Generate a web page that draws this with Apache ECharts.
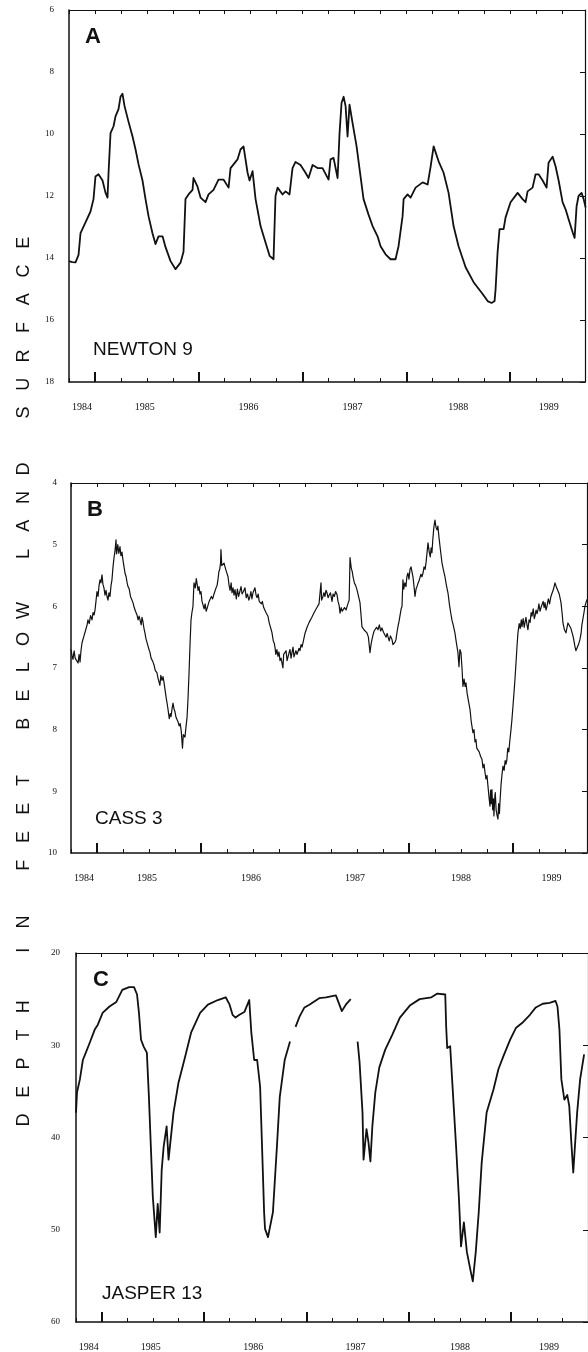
<!DOCTYPE html>
<html><head><meta charset="utf-8">
<script src="https://cdn.jsdelivr.net/npm/echarts@6/dist/echarts.min.js"></script>
<style>html,body{margin:0;padding:0;background:#fff}#c{width:588px;height:1352px}</style>
</head><body><div id="c"></div>
<script>
// ---- data: [decimal year, depth in feet below land surface] ----
const newtonPts = [
[1984.750,14.10],[1984.781,14.13],[1984.813,14.14],[1984.842,13.90],[1984.861,13.20],[1984.909,12.85],[1984.957,12.50],[1984.986,12.10],
[1985.005,11.37],[1985.034,11.30],[1985.073,11.50],[1985.102,11.90],[1985.121,12.05],[1985.131,11.25],[1985.150,9.97],[1985.179,9.75],
[1985.198,9.43],[1985.227,9.20],[1985.246,8.80],[1985.265,8.70],[1985.285,9.10],[1985.323,9.60],[1985.362,10.08],[1985.391,10.50],
[1985.420,10.98],[1985.458,11.50],[1985.487,12.10],[1985.516,12.65],[1985.554,13.20],[1985.583,13.55],[1985.612,13.30],[1985.651,13.30],
[1985.680,13.65],[1985.728,14.10],[1985.776,14.36],[1985.824,14.15],[1985.853,13.80],[1985.872,12.10],[1985.901,11.95],[1985.940,11.80],
[1985.949,11.42],[1985.988,11.70],[1986.017,12.05],[1986.065,12.20],[1986.094,11.95],[1986.142,11.80],[1986.190,11.47],[1986.238,11.47],
[1986.287,11.73],[1986.306,11.10],[1986.335,10.98],[1986.373,10.82],[1986.402,10.50],[1986.431,10.40],[1986.450,10.40],[1986.470,11.25],
[1986.489,11.50],[1986.518,11.20],[1986.547,12.10],[1986.595,12.97],[1986.643,13.50],[1986.682,13.93],[1986.720,14.04],[1986.739,12.00],
[1986.759,11.73],[1986.807,11.95],[1986.836,11.85],[1986.874,11.95],[1986.903,11.10],[1986.932,10.90],[1986.980,11.00],[1987.028,11.25],
[1987.057,11.42],[1987.096,11.00],[1987.144,11.10],[1987.192,11.10],[1987.250,11.47],[1987.269,10.82],[1987.298,10.77],[1987.337,11.42],
[1987.356,9.97],[1987.375,9.00],[1987.395,8.80],[1987.414,9.10],[1987.433,10.08],[1987.452,9.05],[1987.481,9.64],[1987.520,10.40],
[1987.558,11.37],[1987.587,12.10],[1987.635,12.60],[1987.674,12.97],[1987.722,13.30],[1987.751,13.62],[1987.799,13.88],[1987.847,14.04],
[1987.895,14.04],[1987.924,13.62],[1987.963,12.65],[1987.973,12.10],[1988.011,11.95],[1988.040,12.05],[1988.088,11.73],[1988.156,11.56],
[1988.204,11.63],[1988.233,11.05],[1988.262,10.40],[1988.281,10.45],[1988.310,10.88],[1988.358,11.25],[1988.406,11.90],[1988.454,12.97],
[1988.502,13.62],[1988.570,14.30],[1988.647,14.78],[1988.734,15.16],[1988.782,15.39],[1988.820,15.45],[1988.849,15.39],[1988.859,15.00],
[1988.878,13.82],[1988.897,13.07],[1988.936,13.07],[1988.955,12.69],[1989.003,12.20],[1989.071,11.90],[1989.119,12.10],[1989.148,12.20],
[1989.167,11.85],[1989.215,11.73],[1989.244,11.30],[1989.273,11.30],[1989.312,11.50],[1989.350,11.73],[1989.369,10.93],[1989.408,10.73],
[1989.437,11.05],[1989.466,11.50],[1989.504,12.20],[1989.533,12.43],[1989.562,12.75],[1989.601,13.17],[1989.620,13.35],[1989.639,12.33],
[1989.658,12.00],[1989.687,11.90],[1989.707,12.10],[1989.726,12.37]
];
const cassPts = [
[1984.750,6.70],[1984.760,6.80],[1984.769,6.86],[1984.780,6.72],[1984.790,6.84],[1984.808,6.81],[1984.818,6.92],[1984.828,6.78],[1984.837,6.90],[1984.846,6.72],
[1984.856,6.59],[1984.866,6.62],[1984.875,6.48],[1984.885,6.49],[1984.895,6.36],[1984.905,6.30],[1984.913,6.22],[1984.925,6.28],[1984.938,6.15],[1984.952,6.22],
[1984.962,6.10],[1984.972,6.14],[1984.981,6.06],[1984.990,5.92],[1985.000,5.76],[1985.010,5.84],[1985.020,5.66],[1985.029,5.57],[1985.038,5.62],[1985.048,5.49],
[1985.057,5.64],[1985.067,5.70],[1985.077,5.82],[1985.087,5.74],[1985.096,5.84],[1985.106,5.90],[1985.115,5.78],[1985.125,5.84],[1985.135,5.66],[1985.144,5.57],
[1985.154,5.36],[1985.163,5.22],[1985.173,5.10],[1985.183,4.92],[1985.188,5.15],[1985.192,5.11],[1985.200,5.00],[1985.210,5.14],[1985.221,5.03],[1985.230,5.18],
[1985.240,5.12],[1985.250,5.25],[1985.260,5.36],[1985.269,5.46],[1985.280,5.52],[1985.290,5.62],[1985.298,5.68],[1985.310,5.72],[1985.322,5.84],[1985.334,5.86],
[1985.346,5.94],[1985.358,6.02],[1985.370,6.08],[1985.385,6.14],[1985.395,6.22],[1985.405,6.16],[1985.413,6.19],[1985.425,6.30],[1985.433,6.18],[1985.442,6.25],
[1985.452,6.36],[1985.462,6.44],[1985.470,6.52],[1985.481,6.54],[1985.490,6.64],[1985.500,6.70],[1985.510,6.75],[1985.520,6.84],[1985.530,6.86],[1985.538,6.90],
[1985.550,6.96],[1985.560,7.04],[1985.577,7.08],[1985.586,7.16],[1985.596,7.19],[1985.605,7.28],[1985.614,7.12],[1985.625,7.20],[1985.635,7.14],[1985.645,7.24],
[1985.654,7.35],[1985.665,7.48],[1985.675,7.58],[1985.683,7.67],[1985.695,7.82],[1985.705,7.74],[1985.712,7.79],[1985.722,7.66],[1985.731,7.57],[1985.740,7.66],
[1985.750,7.71],[1985.760,7.80],[1985.770,7.78],[1985.779,7.87],[1985.790,7.94],[1985.800,7.90],[1985.810,8.02],[1985.817,8.00],[1985.822,8.30],[1985.830,8.08],
[1985.837,8.05],[1985.846,8.12],[1985.856,7.95],[1985.866,7.80],[1985.875,7.51],[1985.885,7.08],[1985.895,6.60],[1985.904,6.22],[1985.913,6.10],[1985.923,6.00],
[1985.928,5.80],[1985.933,5.62],[1985.945,5.70],[1985.955,5.55],[1985.962,5.57],[1985.972,5.74],[1985.981,5.68],[1985.990,5.80],[1986.000,5.76],[1986.010,5.92],
[1986.019,5.94],[1986.030,6.04],[1986.040,5.96],[1986.050,6.08],[1986.058,6.06],[1986.068,5.98],[1986.078,5.92],[1986.087,5.89],[1986.100,5.84],[1986.112,5.88],
[1986.125,5.80],[1986.135,5.78],[1986.145,5.70],[1986.155,5.66],[1986.163,5.57],[1986.172,5.44],[1986.180,5.40],[1986.188,5.30],[1986.192,5.08],[1986.200,5.34],
[1986.212,5.36],[1986.222,5.30],[1986.231,5.36],[1986.245,5.44],[1986.260,5.52],[1986.270,5.66],[1986.280,5.74],[1986.290,5.62],[1986.298,5.78],[1986.308,5.70],
[1986.318,5.82],[1986.327,5.73],[1986.340,5.88],[1986.350,5.72],[1986.362,5.84],[1986.375,5.81],[1986.385,5.68],[1986.395,5.80],[1986.408,5.76],[1986.423,5.70],
[1986.435,5.86],[1986.447,5.80],[1986.460,5.90],[1986.471,5.84],[1986.480,5.76],[1986.490,5.88],[1986.500,5.78],[1986.510,5.80],[1986.519,5.70],[1986.530,5.82],
[1986.540,5.86],[1986.550,5.80],[1986.560,5.92],[1986.567,5.89],[1986.580,5.96],[1986.590,5.92],[1986.603,6.02],[1986.615,6.00],[1986.625,6.10],[1986.635,6.08],
[1986.644,6.16],[1986.655,6.26],[1986.665,6.32],[1986.675,6.38],[1986.683,6.43],[1986.695,6.56],[1986.705,6.60],[1986.712,6.67],[1986.720,6.78],[1986.730,6.70],
[1986.740,6.81],[1986.750,6.74],[1986.760,6.88],[1986.770,6.84],[1986.779,6.86],[1986.788,7.00],[1986.795,6.78],[1986.808,6.81],[1986.818,6.72],[1986.828,6.88],
[1986.837,6.90],[1986.846,6.76],[1986.856,6.70],[1986.866,6.84],[1986.875,6.75],[1986.885,6.66],[1986.894,6.82],[1986.904,6.83],[1986.913,6.72],[1986.923,6.78],
[1986.933,6.76],[1986.943,6.68],[1986.952,6.72],[1986.962,6.62],[1986.972,6.66],[1986.981,6.59],[1986.990,6.52],[1987.000,6.44],[1987.010,6.46],[1987.020,6.34],
[1987.029,6.33],[1987.040,6.26],[1987.052,6.28],[1987.065,6.18],[1987.077,6.16],[1987.088,6.10],[1987.100,6.12],[1987.115,6.02],[1987.125,6.00],[1987.135,5.96],
[1987.144,5.94],[1987.154,5.62],[1987.160,5.90],[1987.173,5.84],[1987.182,5.78],[1987.192,5.84],[1987.202,5.74],[1987.212,5.78],[1987.222,5.86],[1987.232,5.82],
[1987.245,5.78],[1987.260,5.92],[1987.270,5.80],[1987.282,5.84],[1987.295,5.76],[1987.308,5.81],[1987.318,5.92],[1987.328,5.98],[1987.337,6.11],[1987.348,6.02],
[1987.358,6.08],[1987.365,6.06],[1987.380,6.02],[1987.395,6.06],[1987.405,6.00],[1987.413,6.00],[1987.425,5.90],[1987.433,5.21],[1987.445,5.38],[1987.455,5.44],
[1987.462,5.52],[1987.475,5.62],[1987.487,5.66],[1987.500,5.73],[1987.515,5.84],[1987.529,5.94],[1987.540,6.16],[1987.548,6.33],[1987.558,6.36],[1987.567,6.38],
[1987.580,6.41],[1987.596,6.43],[1987.610,6.50],[1987.625,6.75],[1987.635,6.62],[1987.644,6.54],[1987.655,6.46],[1987.665,6.40],[1987.673,6.41],[1987.688,6.34],
[1987.702,6.38],[1987.715,6.30],[1987.728,6.40],[1987.740,6.35],[1987.755,6.42],[1987.769,6.43],[1987.780,6.50],[1987.790,6.44],[1987.798,6.49],[1987.810,6.56],
[1987.822,6.48],[1987.837,6.54],[1987.846,6.62],[1987.856,6.65],[1987.866,6.58],[1987.875,6.54],[1987.885,6.42],[1987.894,6.33],[1987.905,6.24],[1987.915,6.14],
[1987.925,6.04],[1987.933,6.00],[1987.942,5.57],[1987.950,5.72],[1987.960,5.62],[1987.971,5.68],[1987.980,5.52],[1987.990,5.46],[1988.000,5.56],[1988.010,5.40],
[1988.020,5.36],[1988.029,5.36],[1988.040,5.54],[1988.050,5.70],[1988.058,5.84],[1988.068,5.72],[1988.077,5.68],[1988.088,5.62],[1988.098,5.58],[1988.106,5.57],
[1988.115,5.48],[1988.125,5.52],[1988.135,5.46],[1988.145,5.36],[1988.155,5.40],[1988.165,5.28],[1988.173,5.25],[1988.183,4.97],[1988.195,5.12],[1988.205,5.20],
[1988.213,5.05],[1988.221,5.13],[1988.230,4.90],[1988.240,4.71],[1988.250,4.60],[1988.260,4.72],[1988.269,4.76],[1988.278,4.70],[1988.288,4.87],[1988.300,5.05],
[1988.317,5.29],[1988.330,5.40],[1988.346,5.52],[1988.360,5.66],[1988.375,5.78],[1988.390,5.98],[1988.403,6.12],[1988.413,6.22],[1988.425,6.30],[1988.442,6.43],
[1988.455,6.58],[1988.471,6.75],[1988.481,6.98],[1988.490,6.70],[1988.500,6.75],[1988.510,7.00],[1988.519,7.30],[1988.530,7.18],[1988.540,7.30],[1988.548,7.24],
[1988.560,7.42],[1988.575,7.56],[1988.587,7.67],[1988.598,7.86],[1988.607,7.96],[1988.615,8.05],[1988.625,8.00],[1988.635,8.20],[1988.644,8.16],[1988.652,8.30],
[1988.663,8.27],[1988.675,8.36],[1988.690,8.44],[1988.702,8.48],[1988.712,8.62],[1988.722,8.56],[1988.731,8.69],[1988.740,8.80],[1988.750,8.74],[1988.760,8.92],
[1988.770,9.10],[1988.779,9.24],[1988.785,8.98],[1988.792,9.20],[1988.798,8.97],[1988.805,9.30],[1988.812,9.12],[1988.817,9.40],[1988.825,9.10],[1988.830,9.02],
[1988.838,9.30],[1988.846,9.38],[1988.856,9.45],[1988.862,9.20],[1988.870,9.36],[1988.875,9.18],[1988.885,8.90],[1988.895,8.72],[1988.904,8.59],[1988.915,8.66],
[1988.925,8.50],[1988.933,8.56],[1988.942,8.48],[1988.950,8.30],[1988.960,8.36],[1988.971,8.16],[1988.980,8.02],[1988.990,7.84],[1989.000,7.62],[1989.010,7.40],
[1989.019,7.19],[1989.030,6.90],[1989.040,6.62],[1989.048,6.43],[1989.060,6.28],[1989.070,6.36],[1989.080,6.22],[1989.087,6.33],[1989.098,6.20],[1989.108,6.34],
[1989.115,6.27],[1989.125,6.18],[1989.135,6.30],[1989.144,6.38],[1989.155,6.22],[1989.165,6.26],[1989.175,6.10],[1989.183,6.16],[1989.195,6.04],[1989.205,6.20],
[1989.212,6.16],[1989.222,6.06],[1989.232,6.12],[1989.240,6.06],[1989.250,5.96],[1989.260,6.08],[1989.270,6.02],[1989.279,6.02],[1989.290,5.92],[1989.300,6.02],
[1989.308,5.94],[1989.318,6.06],[1989.327,6.00],[1989.340,5.88],[1989.352,5.96],[1989.365,5.84],[1989.375,5.84],[1989.390,5.72],[1989.404,5.62],[1989.420,5.70],
[1989.433,5.68],[1989.445,5.80],[1989.462,5.94],[1989.472,6.10],[1989.481,6.27],[1989.495,6.38],[1989.510,6.43],[1989.520,6.34],[1989.529,6.27],[1989.545,6.30],
[1989.558,6.36],[1989.567,6.33],[1989.580,6.50],[1989.596,6.65],[1989.605,6.72],[1989.615,6.75],[1989.630,6.62],[1989.644,6.54],[1989.655,6.44],[1989.663,6.30],
[1989.673,6.27],[1989.683,6.10],[1989.692,6.00],[1989.702,5.94],[1989.712,5.89]
];
// null = gap in the record
const jasperPts = [
[1984.750,37.3],[1984.760,35.1],[1984.788,33.7],[1984.817,31.6],[1984.846,30.8],[1984.885,29.7],[1984.933,28.3],[1984.962,27.8],[1985.010,26.5],
[1985.077,25.8],[1985.144,25.3],[1985.202,24.0],[1985.269,23.7],[1985.317,23.7],[1985.346,24.5],[1985.365,26.5],[1985.385,29.4],[1985.413,30.2],
[1985.442,30.8],[1985.462,35.6],[1985.481,41.0],[1985.500,46.4],[1985.529,50.8],[1985.548,47.2],[1985.567,50.3],[1985.587,43.5],[1985.606,41.0],
[1985.635,38.8],[1985.654,42.4],[1985.673,42.6],[1985.702,37.3],[1985.750,34.1],[1985.817,31.2],[1985.875,28.6],[1985.962,26.5],[1986.038,25.6],
[1986.135,25.1],[1986.212,24.8],[1986.250,25.6],[1986.279,26.7],[1986.308,27.0],[1986.346,26.7],[1986.394,26.4],[1986.442,25.1],[1986.462,28.6],
[1986.490,31.6],[1986.519,31.6],[1986.548,34.5],[1986.567,41.0],[1986.587,48.1],[1986.596,49.9],[1986.625,50.8],[1986.644,50.7],[1986.673,48.1],
[1986.712,41.0],[1986.740,35.6],[1986.788,31.6],[1986.840,29.6],[1986.866,null],
[1986.894,28.0],[1986.933,26.9],[1986.981,25.9],[1987.029,25.6],[1987.125,24.9],[1987.192,24.8],[1987.288,24.6],[1987.346,26.3],[1987.385,25.6],
[1987.433,25.0],[1987.466,null],
[1987.500,29.6],[1987.519,31.8],[1987.548,37.3],[1987.558,42.4],[1987.587,39.1],[1987.606,40.5],[1987.625,42.6],[1987.644,38.8],[1987.673,35.1],
[1987.712,32.4],[1987.769,30.5],[1987.837,28.9],[1987.913,27.0],[1988.010,25.7],[1988.106,25.0],[1988.221,24.8],[1988.279,24.4],[1988.356,24.5],
[1988.365,28.0],[1988.375,30.3],[1988.404,30.1],[1988.423,33.7],[1988.462,41.0],[1988.490,46.7],[1988.510,51.8],[1988.538,49.2],[1988.567,52.4],
[1988.606,54.6],[1988.625,55.6],[1988.654,52.4],[1988.683,48.1],[1988.712,42.7],[1988.760,37.3],[1988.827,34.8],[1988.875,32.6],[1988.923,31.2],
[1988.990,29.4],[1989.048,28.1],[1989.115,27.5],[1989.183,26.7],[1989.240,25.9],[1989.308,25.5],[1989.375,25.4],[1989.433,25.2],[1989.452,25.8],
[1989.471,28.3],[1989.490,33.7],[1989.519,35.9],[1989.548,35.4],[1989.567,36.6],[1989.587,40.5],[1989.606,43.8],[1989.625,40.5],[1989.644,37.3],
[1989.673,33.7],[1989.712,31.0]
];
const yearLabels = ['1984','1985','1986','1987','1988','1989'];
const yearLabelPos = [1984.875, 1985.48, 1986.48, 1987.48, 1988.5, 1989.37];
const yearStarts = [1985, 1986, 1987, 1988, 1989];
const panelNames = ['A','B','C'];
const wellNames = ['NEWTON 9','CASS 3','JASPER 13'];
const yRanges = [[6,18,2],[4,10,1],[20,60,10]];
const axisTitle = 'DEPTH IN FEET BELOW LAND SURFACE';

// ---- layout ----
const grids = [
  {left:69, top:10,  width:516, height:372, xmax:1989.72, lblMargin:15, lineW:1.8},
  {left:71, top:483, width:516, height:370, xmax:1989.712, lblMargin:14, lineW:1.2},
  {left:76, top:953, width:520, height:370, xmax:1989.75, lblMargin:16, lineW:1.8}
];
const ink = '#111';
const serif = '"Liberation Serif", "DejaVu Serif", serif';
const sans = '"Liberation Sans", Arial, sans-serif';

const xAxis = [], yAxis = [], series = [], graphic = [];
const seriesData = [newtonPts, cassPts, jasperPts];
grids.forEach((g, i) => {
  const base = {type:'value', gridIndex:i, min:1984.75, max:g.xmax, interval:0.25, splitLine:{show:false}};
  // bottom: major ticks at Jan 1 + year labels
  xAxis.push(Object.assign({}, base, {
    position:'bottom',
    axisLine:{show:true, onZero:false, lineStyle:{color:ink, width:1.5}},
    axisTick:{show:true, inside:true, length:10, lineStyle:{color:ink, width:2}, customValues:yearStarts},
    axisLabel:{show:true, margin:20, fontSize:10, fontFamily:serif, color:'#111',
      customValues:yearLabelPos, formatter:(v)=>{const k=yearLabelPos.findIndex(p=>Math.abs(p-v)<1e-6);return k>=0?yearLabels[k]:'';}}
  }));
  // bottom: quarter ticks
  xAxis.push(Object.assign({}, base, {
    position:'bottom',
    axisLine:{show:false, onZero:false},
    axisTick:{show:true, inside:true, length:4, lineStyle:{color:ink, width:1}},
    axisLabel:{show:false}
  }));
  // top: quarter ticks
  xAxis.push(Object.assign({}, base, {
    position:'top',
    axisLine:{show:true, onZero:false, lineStyle:{color:ink, width:1}},
    axisTick:{show:true, inside:true, length:4, lineStyle:{color:ink, width:1}},
    axisLabel:{show:false}
  }));
  const [ymin, ymax, yint] = yRanges[i];
  yAxis.push({type:'value', gridIndex:i, position:'left', inverse:true, min:ymin, max:ymax, interval:yint,
    splitLine:{show:false},
    axisLine:{show:true, onZero:false, lineStyle:{color:ink, width:1.5}},
    axisTick:{show:false},
    axisLabel:{show:true, margin:g.lblMargin, fontSize:9, fontFamily:serif, color:'#111'}});
  yAxis.push({type:'value', gridIndex:i, position:'right', inverse:true, min:ymin, max:ymax, interval:yint,
    splitLine:{show:false},
    axisLine:{show:true, onZero:false, lineStyle:{color:ink, width:1.2}},
    axisTick:{show:true, inside:true, length:5, lineStyle:{color:ink}},
    axisLabel:{show:false}});
  series.push({type:'line', xAxisIndex:i*3, yAxisIndex:i*2, data:seriesData[i], showSymbol:false, symbol:'none',
    connectNulls:false, clip:true, lineStyle:{color:ink, width:g.lineW, join:'round'}, animation:false, silent:true});
  // panel letter and well name
  graphic.push({type:'text', x:g.left+16+(i===2?1:0), y:g.top+27, style:{text:panelNames[i], font:'bold 22px '+sans, fill:ink, textAlign:'left', textVerticalAlign:'middle', align:'left', verticalAlign:'middle'}});
  graphic.push({type:'text', x:g.left+24+(i===2?2:0), y:g.top+g.height-32+(i===1?-2:0)+(i===2?3:0), style:{text:wellNames[i], font:'19px '+sans, fill:ink, textAlign:'left', textVerticalAlign:'middle', align:'left', verticalAlign:'middle'}});
});
// vertical axis title, letter by letter, reading bottom to top
const chars = axisTitle.split('');
chars.forEach((ch, k) => {
  if (ch === ' ') return;
  graphic.push({type:'text', x:24, y:1120 - k*28.3, rotation:Math.PI/2,
    style:{text:ch, font:'18px '+sans, fill:ink, textAlign:'center', textVerticalAlign:'middle', align:'center', verticalAlign:'middle'}});
});

const chart = echarts.init(document.getElementById('c'), null, {renderer:'canvas'});
chart.setOption({
  animation:false,
  backgroundColor:'#fff',
  grid: grids.map(g=>({left:g.left, top:g.top, width:g.width, height:g.height, containLabel:false})),
  xAxis, yAxis, series, graphic
});
</script></body></html>
